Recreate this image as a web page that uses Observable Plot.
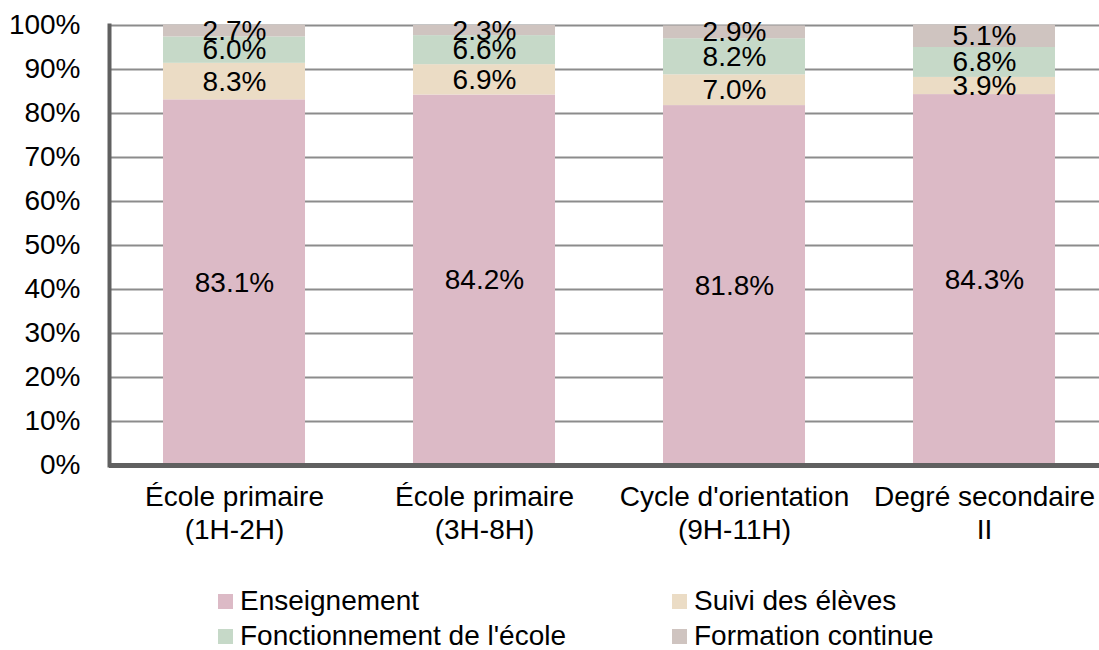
<!DOCTYPE html>
<html>
<head>
<meta charset="utf-8">
<script src="https://cdn.jsdelivr.net/npm/d3@7"></script>
<script src="https://cdn.jsdelivr.net/npm/@observablehq/plot@0.6"></script>
<style>
  html, body { margin: 0; padding: 0; background: #fff; overflow: hidden; width: 1099px; height: 650px; }
  #wrap { position: relative; width: 1099px; height: 650px; overflow: hidden; font-family: "Liberation Sans", Arial, sans-serif; }
  #wrap svg { max-width: none !important; display: block; }
  .leg { position: absolute; font-size: 28px; color: #000; display: flex; align-items: center; white-space: nowrap; line-height: 1; }
  .sw { width: 15px; height: 15px; margin-right: 7px; display: inline-block; }
</style>
</head>
<body>
<div id="wrap"></div>
<script>
const categories = ["École primaire\n(1H-2H)", "École primaire\n(3H-8H)", "Cycle d'orientation\n(9H-11H)", "Degré secondaire\nII"];
const series = ["Enseignement", "Suivi des élèves", "Fonctionnement de l'école", "Formation continue"];
const enseignement = [83.1, 84.2, 81.8, 84.3];
const suivi = [8.3, 6.9, 7.0, 3.9];
const fonctionnement = [6.0, 6.6, 8.2, 6.8];
const formation = [2.7, 2.3, 2.9, 5.1];
const yTicks = [0, 10, 20, 30, 40, 50, 60, 70, 80, 90, 100];
const colors = ["#dcbac6", "#ebdcc5", "#c6d9c8", "#cfc4c0"];

const seriesValues = [enseignement, suivi, fonctionnement, formation];
const data = [];
categories.forEach((c, i) => {
  series.forEach((s, j) => {
    data.push({cat: c, series: s, value: seriesValues[j][i]});
  });
});

const font = '"Liberation Sans", Arial, sans-serif';

const chart = Plot.plot({
  width: 1109,
  height: 565,
  marginLeft: 109,
  marginRight: 0,
  marginTop: 25,
  marginBottom: 100,
  style: {fontFamily: font, fontSize: "28px", color: "#000", background: "#fff", maxWidth: "none"},
  x: {domain: categories, paddingInner: 0.432, paddingOuter: 0.216, label: null},
  y: {domain: [0, 100], label: null},
  color: {domain: series, range: colors},
  marks: [
    Plot.gridY(yTicks, {stroke: "#8c8c8c", strokeOpacity: 1, strokeWidth: 2}),
    Plot.barY(data, {x: "cat", y: "value", fill: "series", z: "series"}),
    Plot.text(data, Plot.stackY({x: "cat", y: "value", z: "series", text: d => d.value.toFixed(1) + "%", fill: "#000", fontSize: 28})),
    Plot.axisY({ticks: yTicks, tickSize: 0, tickPadding: 29, tickFormat: d => d + "%", fontSize: 28, fill: "#000"}),
    Plot.axisX({tickSize: 0, tickPadding: 17, fontSize: 28, lineHeight: 1.18, fill: "#000"}),
    Plot.frame({anchor: "left", stroke: "#606060", strokeWidth: 4}),
    Plot.ruleY([0], {stroke: "#606060", strokeWidth: 5})
  ]
});

const wrap = document.getElementById("wrap");
wrap.appendChild(chart);

const legPos = [
  {x: 218, y: 601}, {x: 672, y: 601},
  {x: 218, y: 636}, {x: 672, y: 636}
];
series.forEach((s, i) => {
  const d = document.createElement("div");
  d.className = "leg";
  d.style.left = legPos[i].x + "px";
  d.style.top = (legPos[i].y - 14) + "px";
  d.style.height = "28px";
  const sw = document.createElement("span");
  sw.className = "sw";
  sw.style.background = colors[i];
  d.appendChild(sw);
  d.appendChild(document.createTextNode(s));
  wrap.appendChild(d);
});
</script>
</body>
</html>
